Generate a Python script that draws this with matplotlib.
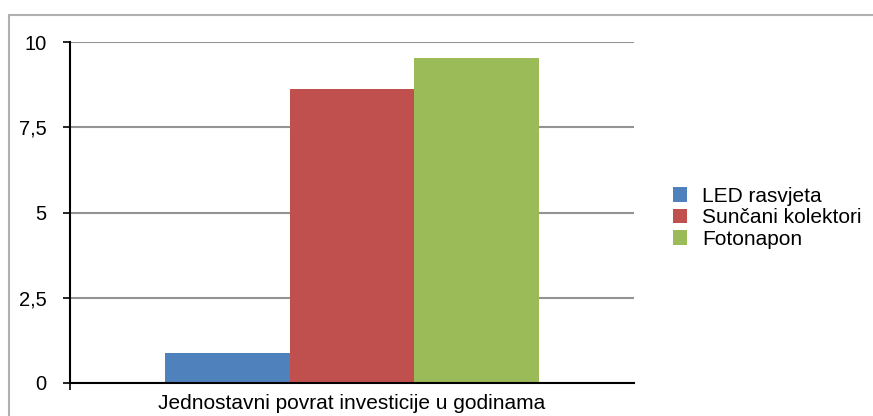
import matplotlib
matplotlib.use('Agg')
import matplotlib.pyplot as plt
from matplotlib.patches import Rectangle

# data
series = ['LED rasvjeta', 'Sunčani kolektori', 'Fotonapon']
values = [0.88, 8.62, 9.53]
colors = ['#4F81BD', '#C0504D', '#9BBB59']
category = 'Jednostavni povrat investicije u godinama'
yticks = [0, 2.5, 5, 7.5, 10]
ytick_labels = ['0', '2,5', '5', '7,5', '10']

plt.rcParams['font.family'] = ['Liberation Sans', 'DejaVu Sans']

fig = plt.figure(figsize=(8.73, 4.16), dpi=100)
ax = fig.add_axes([70 / 873, 33 / 416, 564 / 873, 341 / 416])

# frame of the chart area (cut by the picture edges)
fig.patches.append(Rectangle((9 / 873, -0.1), 1.2, (416 - 15) / 416 + 0.1,
                             transform=fig.transFigure, fill=False,
                             edgecolor='#b0b0b0', linewidth=1.5))

w = 0.443
for i, (name, v, c) in enumerate(zip(series, values, colors)):
    ax.bar((i - 1) * w, v, width=w, color=c, label=name, zorder=2)

ax.set_xlim(-1, 1)
ax.set_ylim(0, 10)
ax.set_yticks(yticks)
ax.set_yticklabels(ytick_labels)
ax.yaxis.grid(True, color='#939393', linewidth=1.5, zorder=0)
ax.set_xticks([-1])
ax.set_xticklabels([])
ax.tick_params(axis='both', direction='out', length=5, width=1.2, labelsize=14.5)
ax.tick_params(axis='y', pad=12)

for s in ['top', 'right']:
    ax.spines[s].set_visible(False)
for s in ['left', 'bottom']:
    ax.spines[s].set_linewidth(1.5)
    ax.spines[s].set_color('black')
ax.spines['bottom'].set_zorder(3)

fig.text(352 / 873, 3 / 416, category, fontsize=15, ha='center', va='bottom')

ax.legend(loc='center left', bbox_to_anchor=(1.069, 0.484), frameon=False,
          fontsize=15, handlelength=0.7, handleheight=0.7,
          handletextpad=0.7, labelspacing=0.12, borderpad=0, borderaxespad=0)

fig.savefig('out.png', dpi=100)
